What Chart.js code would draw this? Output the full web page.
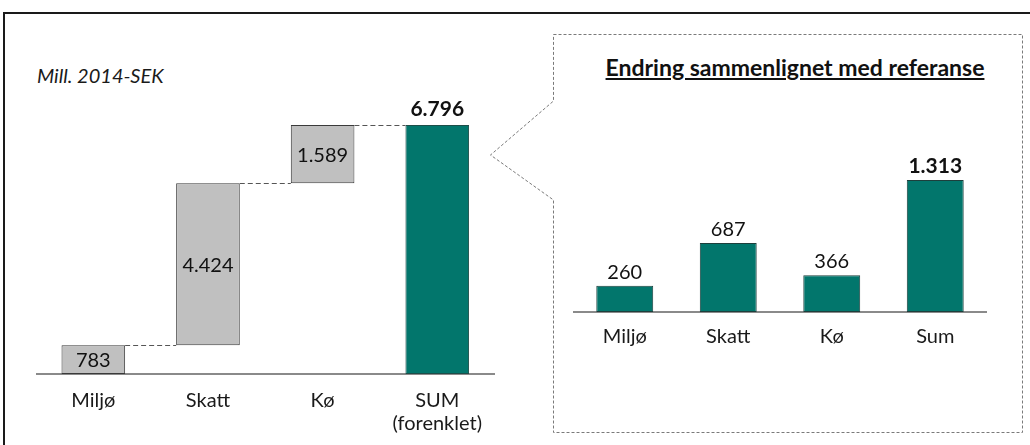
<!DOCTYPE html>
<html><head><meta charset="utf-8">
<script src="https://cdn.jsdelivr.net/npm/chart.js@4.4.1/dist/chart.umd.min.js"></script>
<style>
html,body{margin:0;padding:0;background:#fff;width:1030px;height:445px;overflow:hidden;font-family:Lato,sans-serif}
#wrap{position:relative;width:1030px;height:445px}
.cw{position:absolute;top:0;height:445px}
#left{left:36px;width:461px}
#right{left:573px;width:414px}
#unit{position:absolute;left:37px;top:64px;font-style:italic;font-size:20px;color:#1a1a1a;line-height:22px}
#title{position:absolute;left:560px;width:470px;text-align:center;top:54px;font-weight:bold;font-size:23px;text-decoration:underline;color:#111;line-height:26px}
svg{position:absolute;left:0;top:0}
</style></head>
<body><div id="wrap">
<svg width="1030" height="445">
<path d="M4,445 L4,13 L1030,13" fill="none" stroke="#1a1a1a" stroke-width="2"/>
<polygon points="553.5,34.5 1022.5,34.5 1022.5,432.5 553.5,432.5 553.5,200 490.5,155 553.5,101" fill="none" stroke="#7a7a7a" stroke-width="1" stroke-dasharray="3,2"/>
</svg>
<div id="unit">Mill. 2014-SEK</div>
<div id="title">Endring sammenlignet med referanse</div>
<div class="cw" id="left"><canvas id="c1"></canvas></div>
<div class="cw" id="right"><canvas id="c2"></canvas></div>
</div>
<script>
const wfCategories = ['Miljø', 'Skatt', 'Kø', ['SUM', '(forenklet)']];
const wfSteps = [783, 4424, 1589];
const wfTotal = 6796;
const chgCategories = ['Miljø', 'Skatt', 'Kø', 'Sum'];
const chgValues = [260, 687, 366, 1313];

const GREY = '#c0c0c0', TEAL = '#02766c', EDGE = '#3a3a3a';
const FONT = 'Lato, sans-serif';
const fmt = n => String(n).replace(/\B(?=(\d{3})+(?!\d))/g, '.');

// floating ranges built from the step values
const wfRanges = [];
let run = 0;
wfSteps.forEach(v => { wfRanges.push([run, run + v]); run += v; });
wfRanges.push([0, wfTotal]);
const wfLabelValues = wfSteps.concat([wfTotal]);

const wfPlugin = {
  id: 'wf',
  afterDatasetsDraw(chart) {
    const ctx = chart.ctx;
    const bars = chart.getDatasetMeta(0).data;
    ctx.save();
    ctx.strokeStyle = '#555';
    ctx.lineWidth = 1;
    ctx.setLineDash([5, 3]);
    for (let i = 0; i < bars.length - 1; i++) {
      const a = bars[i], b = bars[i + 1];
      const y = Math.round(a.y) + 0.5;
      ctx.beginPath();
      ctx.moveTo(a.x + a.width / 2, y);
      ctx.lineTo(b.x - b.width / 2, y);
      ctx.stroke();
    }
    ctx.setLineDash([]);
    ctx.textAlign = 'center';
    bars.forEach((b, i) => {
      if (i < bars.length - 1) {
        ctx.font = '20px ' + FONT;
        ctx.fillStyle = '#111';
        ctx.textBaseline = 'middle';
        ctx.fillText(fmt(wfLabelValues[i]), b.x, (b.y + b.base) / 2 + 1);
      } else {
        ctx.font = 'bold 21px ' + FONT;
        ctx.fillStyle = '#111';
        ctx.textBaseline = 'alphabetic';
        ctx.fillText(fmt(wfLabelValues[i]), b.x, b.y - 9);
      }
    });
    ctx.restore();
  }
};

new Chart(document.getElementById('c1'), {
  type: 'bar',
  data: {
    labels: wfCategories,
    datasets: [{
      data: wfRanges,
      backgroundColor: [GREY, GREY, GREY, TEAL],
      borderColor: [EDGE, EDGE, EDGE, '#1d4e49'],
      borderWidth: 1,
      borderSkipped: false,
      barPercentage: 1,
      categoryPercentage: 0.555
    }]
  },
  options: {
    responsive: true, maintainAspectRatio: false, animation: false,
    layout: { padding: { top: 81, left: 0, right: 0, bottom: 0 } },
    plugins: { legend: { display: false }, tooltip: { enabled: false } },
    scales: {
      y: { display: false, min: 0, max: 8000 },
      x: {
        afterFit: s => { s.height = 71; },
        grid: { display: false, drawTicks: false },
        border: { display: true, color: '#8a8a8a', width: 2 },
        ticks: { color: '#1a1a1a', font: { family: FONT, size: 20, lineHeight: 1.15 }, padding: 15, maxRotation: 0, autoSkip: false }
      }
    }
  },
  plugins: [wfPlugin]
});

const chgPlugin = {
  id: 'chg',
  afterDatasetsDraw(chart) {
    const ctx = chart.ctx;
    const bars = chart.getDatasetMeta(0).data;
    ctx.save();
    ctx.textAlign = 'center';
    ctx.textBaseline = 'alphabetic';
    bars.forEach((b, i) => {
      const last = i === bars.length - 1;
      ctx.font = (last ? 'bold 21px ' : '20px ') + FONT;
      ctx.fillStyle = '#111';
      ctx.fillText(fmt(chgValues[i]), b.x, b.y - 7);
    });
    ctx.restore();
  }
};

new Chart(document.getElementById('c2'), {
  type: 'bar',
  data: {
    labels: chgCategories,
    datasets: [{
      data: chgValues,
      backgroundColor: TEAL,
      borderColor: '#1d3f3c',
      borderWidth: 1,
      borderSkipped: false,
      barPercentage: 1,
      categoryPercentage: 0.55
    }]
  },
  options: {
    responsive: true, maintainAspectRatio: false, animation: false,
    layout: { padding: { top: 111, left: 0, right: 0, bottom: 0 } },
    plugins: { legend: { display: false }, tooltip: { enabled: false } },
    scales: {
      y: { display: false, min: 0, max: 2000 },
      x: {
        afterFit: s => { s.height = 133; },
        grid: { display: false, drawTicks: false },
        border: { display: true, color: '#8a8a8a', width: 2 },
        ticks: { color: '#1a1a1a', font: { family: FONT, size: 20, lineHeight: 1.15 }, padding: 13, maxRotation: 0, autoSkip: false }
      }
    }
  },
  plugins: [chgPlugin]
});
</script>
</body></html>
